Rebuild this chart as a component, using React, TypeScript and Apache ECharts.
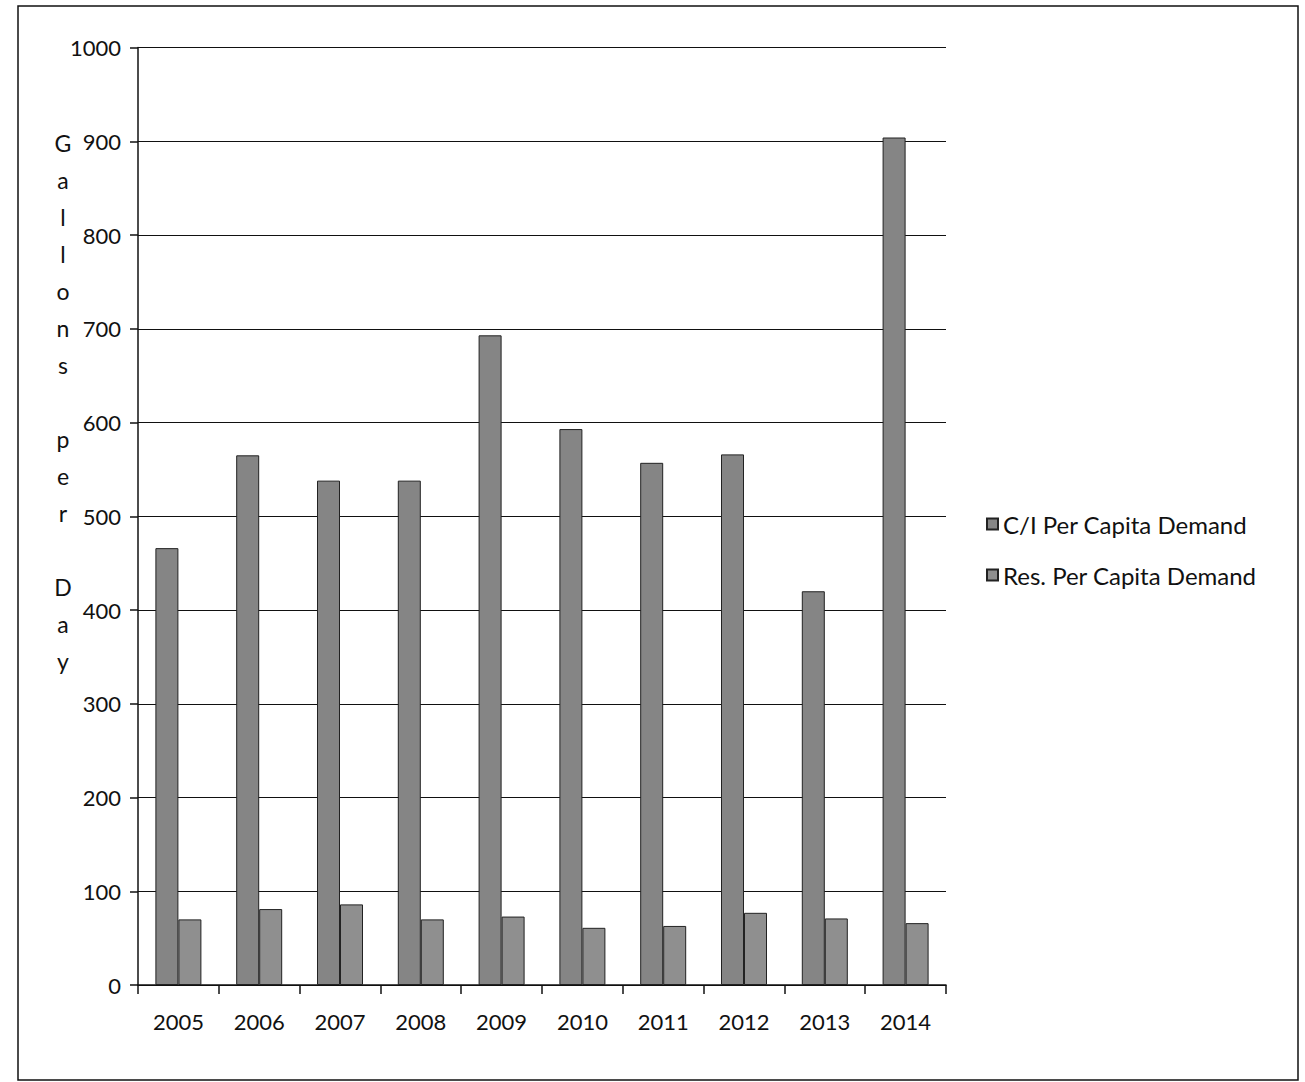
import React, { useEffect, useRef } from "react";
import * as echarts from "echarts";

const years = ["2005", "2006", "2007", "2008", "2009", "2010", "2011", "2012", "2013", "2014"];
const ciDemand = [466, 565, 538, 538, 693, 593, 557, 566, 420, 904];
const resDemand = [70, 81, 86, 70, 73, 61, 63, 77, 71, 66];
const seriesNames = ["C/I Per Capita Demand", "Res. Per Capita Demand"];
const yTitle = "G\na\nl\nl\no\nn\ns\n\np\ne\nr\n\nD\na\ny";

const FONT = "Lato, 'Open Sans', sans-serif";

export default function App() {
  const ref = useRef<HTMLDivElement>(null);
  useEffect(() => {
    if (!ref.current) return;
    const chart = echarts.init(ref.current, null, { renderer: "svg" });
    chart.setOption({
      animation: false,
      backgroundColor: "#ffffff",
      textStyle: { fontFamily: FONT },
      grid: { left: 138, top: 47.5, width: 808, height: 937.5 },
      legend: {
        orient: "vertical",
        left: 981,
        top: 507,
        itemGap: 27,
        itemWidth: 11,
        itemHeight: 11,
        icon: "rect",
        textStyle: { fontSize: 24, color: "#111", fontFamily: FONT },
        data: seriesNames,
      },
      xAxis: {
        type: "category",
        data: years,
        axisLine: { lineStyle: { color: "#111", width: 1.5 } },
        axisTick: { show: true, length: 9, lineStyle: { color: "#111", width: 1.5 } },
        axisLabel: { fontSize: 22, color: "#111", margin: 25, fontFamily: FONT },
      },
      yAxis: {
        type: "value",
        min: 0,
        max: 1000,
        interval: 100,
        axisLine: { show: true, lineStyle: { color: "#111", width: 1.5 } },
        axisTick: { show: true, length: 8, lineStyle: { color: "#111", width: 1.5 } },
        axisLabel: {
          fontSize: 22,
          color: "#111",
          margin: 17,
          fontFamily: FONT,
          formatter: (v: number) => String(v),
        },
        splitLine: { show: true, lineStyle: { color: "#111", width: 1.2 } },
      },
      series: [
        {
          name: seriesNames[0],
          type: "bar",
          data: ciDemand,
          barWidth: 23,
          barGap: "0%",
          itemStyle: { color: "#858585", borderColor: "#222", borderWidth: 1 },
        },
        {
          name: seriesNames[1],
          type: "bar",
          data: resDemand,
          barWidth: 23,
          itemStyle: { color: "#8f8f8f", borderColor: "#222", borderWidth: 1 },
        },
      ],
      graphic: [
        {
          type: "rect",
          shape: { x: 18, y: 6, width: 1280, height: 1074 },
          style: { fill: "none", stroke: "#111", lineWidth: 1.5 },
          silent: true,
        },
        {
          type: "text",
          x: 63,
          y: 124,
          style: {
            text: yTitle,
            fontSize: 23,
            fontFamily: FONT,
            fill: "#111",
            lineHeight: 37,
            align: "center",
            verticalAlign: "top",
          },
        },
      ],
    });
    return () => chart.dispose();
  }, []);
  return (
    <div
      ref={ref}
      style={{ position: "absolute", left: 0, top: 0, width: 1305, height: 1082 }}
    />
  );
}
